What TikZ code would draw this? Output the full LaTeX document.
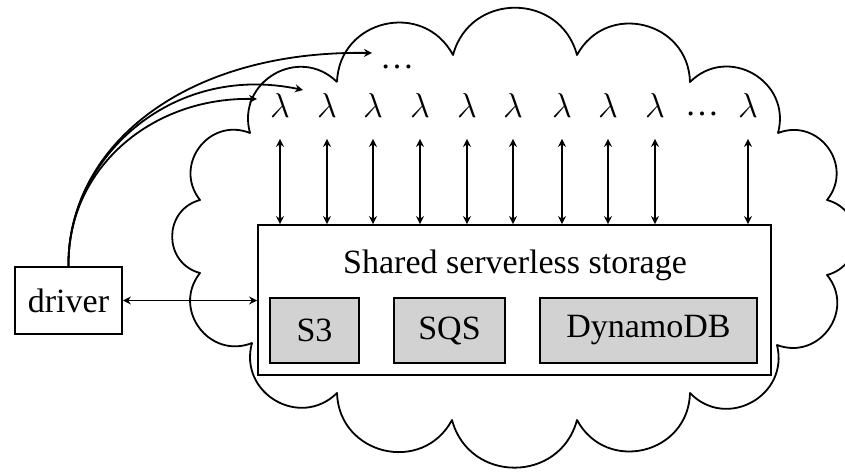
\documentclass[tikz,border=0pt]{standalone}
\usepackage{fontspec}
\setmainfont{Liberation Serif}
\usetikzlibrary{arrows.meta}
\begin{document}
\begin{tikzpicture}[x=0.5pt,y=-0.5pt,
  font=\fontsize{17}{20}\selectfont,
  every path/.style={line width=0.9pt},
  puff/.style={bend left=75, looseness=1.35},
  dbl/.style={{Stealth[length=4pt,width=4pt]}-{Stealth[length=4pt,width=4pt]}},
  tip/.style={-{Stealth[length=4pt,width=4pt]}},
  box/.style={draw, inner sep=0pt},
  svc/.style={box, fill=gray!35, minimum height=32.5pt},
  lam/.style={inner sep=0pt, minimum height=33pt, minimum width=14pt}
]
\useasboundingbox (0,0) rectangle (845,471);

% cloud
\draw[line join=round] (337,82) to[puff] (453,55) to[puff] (577,55) to[puff] (690,82)
  to[puff] (778,133) to[puff] (827,200) to[puff] (827,275) to[puff] (777,345)
  to[puff] (690,393) to[puff] (577,420) to[puff] (452,420) to[puff] (337,393)
  to[puff] (252,343) to[puff] (200,273) to[puff] (200,200) to[puff] (250,133)
  to[puff] (337,82);

% storage
\node[box, fill=white, minimum width=256.5pt, minimum height=75pt] (store) at (514.5,300) {};
\node (title) at (515,265) {Shared serverless storage};
\node[svc, minimum width=44.5pt] (s3) at (314.5,330.5) {S3};
\node[svc, minimum width=55.5pt] (sqs) at (449.5,330.5) {SQS};
\node[svc, minimum width=108.5pt] (ddb) at (648.5,330.5) {DynamoDB};

% driver
\node[box, minimum width=53.5pt, minimum height=33.5pt] (driver) at (68.5,300.5) {driver};
\draw[dbl] (driver.east) -- (driver.east -| store.west);

% lambdas
\foreach \i/\x in {1/280,2/327,3/373,4/420,5/467,6/513,7/562,8/608,9/655,10/748} {
  \node[lam] (l\i) at (\x,105) {$\lambda$};
  \draw[dbl] (l\i.south) -- (l\i.south |- store.north);
}
\node (ldots) at (702,114) {\dots};
\node (tdots) at (397,67) {\dots};

% driver invocations
\coordinate (e1) at (372,53);
\coordinate (e2) at (303,90);
\coordinate (e3) at (257,99);
\draw[tip] (driver.north) .. controls (67,150) and (180,50) .. (e1);
\draw[tip] (driver.north) .. controls (67,160) and (170,62) .. (e2);
\draw[tip] (driver.north) .. controls (67,170) and (150,97) .. (e3);
\end{tikzpicture}
\end{document}
